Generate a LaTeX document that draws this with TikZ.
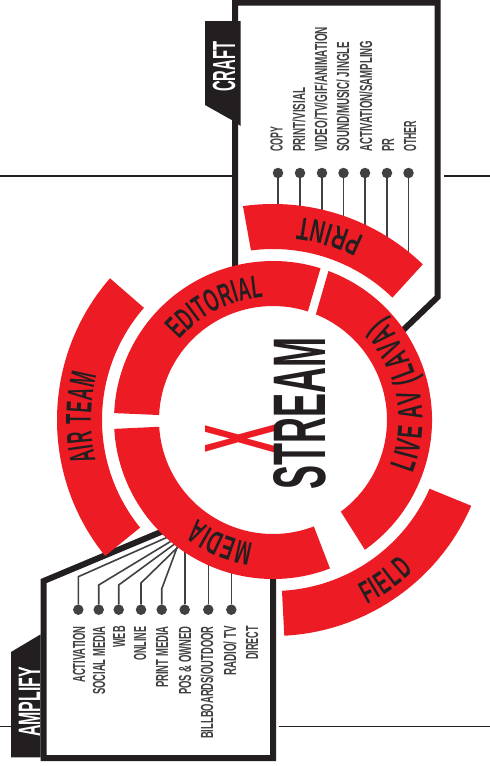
\documentclass[tikz,border=0pt]{standalone}
\usepackage{fontspec}
\usepackage{graphicx}
\usetikzlibrary{decorations.text}
\setmainfont{Liberation Sans}
\definecolor{ink}{HTML}{231F20}
\definecolor{wire}{HTML}{414042}
\definecolor{hot}{HTML}{ED1C24}
\newfontfamily\ffEd[FakeStretch=0.55]{Liberation Sans}
\newfontfamily\ffMe[FakeStretch=0.56]{Liberation Sans}
\newfontfamily\ffLi[FakeStretch=0.54]{Liberation Sans}
\newfontfamily\ffPr[FakeStretch=0.62]{Liberation Sans}
\newfontfamily\ffFi[FakeStretch=0.55]{Liberation Sans}
\newfontfamily\ffAi[FakeStretch=0.46]{Liberation Sans}
\newcommand{\fontEd}{\fontsize{32}{32}\selectfont\ffEd\bfseries}
\newcommand{\fontMe}{\fontsize{33}{33}\selectfont\ffMe\bfseries}
\newcommand{\fontLi}{\fontsize{35}{35}\selectfont\ffLi\bfseries}
\newcommand{\fontPr}{\fontsize{32}{32}\selectfont\ffPr\bfseries}
\newcommand{\fontFi}{\fontsize{32}{32}\selectfont\ffFi\bfseries}
\newcommand{\fontAi}{\fontsize{36}{36}\selectfont\ffAi\bfseries}
% label whose length along the text direction is forced: length, size, text
\newcommand{\fitlen}[3]{\resizebox{#1pt}{\height}{\fontsize{#2}{#2}\selectfont\bfseries #3}}
\newcommand{\segm}[6]{\fill[hot] (#1:#5) arc[start angle=#1,end angle=#2,radius=#5 pt] -- (#3:#6) arc[start angle=#3,end angle=#4,radius=#6 pt] -- cycle;}
\newcommand{\curve}[5]{\path[decorate,decoration={text along path,text color=ink,text align={fit to path},text={|#5|#4}}] (#1:#3) arc[start angle=#1,end angle=#2,radius=#3 pt];}
\tikzset{
  frameline/.style={draw=ink,line width=6pt,miter limit=10},
  rule/.style={draw=ink,line width=1.3pt},
  conn/.style={draw=wire,line width=1.6pt},
  dotnode/.style={circle,fill=wire,inner sep=0pt,minimum size=10.5pt},
  vlabel/.style={rotate=90,anchor=base west,inner sep=0pt,text=wire},
  tagtext/.style={rotate=90,anchor=base west,inner sep=0pt,text=white},
}
\begin{document}
\begin{tikzpicture}[x=1pt,y=1pt]
\useasboundingbox (0,-766) rectangle (490,0);
\fill[white] (0,-766) rectangle (490,0);
% horizontal rules
\coordinate (r1a) at (0,-176); \coordinate (r1b) at (232,-176);
\coordinate (r2a) at (444,-176); \coordinate (r2b) at (490,-176);
\coordinate (r3a) at (0,-726.7); \coordinate (r3b) at (12,-726.7);
\coordinate (r4a) at (279,-726.7); \coordinate (r4b) at (490,-726.7);
\draw[rule] (r1a) -- (r1b); \draw[rule] (r2a) -- (r2b);
\draw[rule] (r3a) -- (r3b); \draw[rule] (r4a) -- (r4b);
% frames
\draw[frameline] (235,-285) -- (235,-2.7) -- (437.7,-2.7) -- (437.7,-297) -- (398,-335);
\draw[frameline] (273,-570) -- (273,-758) -- (43.7,-758) -- (43.7,-581) -- (168,-529);
% tags
\fill[ink] (205,-21) -- (240.7,-21) -- (240.7,-126) -- (231.7,-120) -- (205,-105) -- cycle;
\fill[ink] (11,-652) -- (40.7,-634.3) -- (40.7,-757.3) -- (11,-757.3) -- cycle;
\node[tagtext] (craft) at (235,-92) {\fitlen{50}{32}{CRAFT}};
\node[tagtext] (amplify) at (40,-737) {\fitlen{70}{31}{AMPLIFY}};
% craft list
\foreach \n/\x/\e in {1/278/-230,2/300/-232,3/322/-236,4/343.5/-244,5/365/-254,6/387/-268,7/408.5/-262}{
  \node[dotnode] (c\n) at (\x,-173) {};
  \coordinate (ce\n) at (\x,\e);
  \draw[conn] (c\n) -- (ce\n);
}
\foreach \x/\t/\l/\s in {282.7/COPY/25/CO,305/PRINT\slash VISIAL/64/PV,327/VIDEO\slash TV\slash GIF\slash ANIMATION/125/VT,349/SOUND\slash MUSIC\slash{} JINGLE/110/SM,372/ACTIVATION\slash SAMPLING/111/AS,394/PR/13/PR,416/OTHER/31/OT}{
  \node[vlabel] (cl\s) at (\x,-152) {\fitlen{\l}{17.5}{\t}};
}
% amplify list
\foreach \n/\x in {1/78.3,2/98.7,3/118.7,4/141,5/161.7,6/184.7,7/208.3,8/231.3}{
  \node[dotnode] (a\n) at (\x,-609.7) {};
}
\coordinate (b1) at (78.3,-576.7); \coordinate (e1) at (169,-536.5);
\coordinate (b2) at (98.7,-585);   \coordinate (e2) at (173,-540);
\coordinate (b3) at (118.7,-585);  \coordinate (e3) at (176,-543);
\coordinate (b4) at (141,-583);    \coordinate (e4) at (179,-546);
\coordinate (b5) at (161.7,-589);  \coordinate (e5) at (178,-545);
\coordinate (e6) at (184.7,-548);  \coordinate (e7) at (208.3,-560); \coordinate (e8) at (231.3,-565);
\draw[conn] (a1) -- (b1) -- (e1);
\draw[conn] (a2) -- (b2) -- (e2);
\draw[conn] (a3) -- (b3) -- (e3);
\draw[conn] (a4) -- (b4) -- (e4);
\draw[conn] (a5) -- (b5) -- (e5);
\draw[conn] (a6) -- (e6);
\draw[conn] (a7) -- (e7);
\draw[conn] (a8) -- (e8);
\foreach \x/\b/\t/\l/\s in {85/683/ACTIVATION/56.5/AC,105/695/SOCIAL MEDIA/68.5/SO,125/648/WEB/21.5/WE,146/660.7/ONLINE/34/ON,168/688/PRINT MEDIA/61.5/PR,191/695/POS \& OWNED/68.5/PO,213/739/BILLBOARDS\slash OUTDOOR/112.5/BI,236/676/RADIO\slash{} TV/49.5/RA,258/660/DIRECT/33.5/DI}{
  \node[vlabel] (al\s) at (\x,-\b) {\fitlen{\l}{17.5}{\t}};
}
% rings
\begin{scope}[shift={(273,-420)}]
\segm{177.5}{72.6}{72.2}{177.5}{159}{114}
\segm{69.6}{-54.7}{-53.5}{67.9}{159}{114}
\segm{183.2}{291}{291}{183.4}{159}{114}
\segm{98}{46.1}{45.7}{97.4}{216}{171}
\segm{-23.4}{-87}{-87}{-23.7}{216}{171}
\segm{139}{219}{219}{139}{216}{171}
\curve{139.4}{94.5}{123}{EDITORIAL}{\fontEd}
\curve{261}{232.5}{124.5}{MEDIA}{\fontMe}
\curve{-21}{43}{149.5}{LIVE AV (LAVA)}{\fontLi}
\curve{63.5}{82.5}{204.5}{PRINT}{\fontPr}
\curve{-63}{-47}{207}{FIELD}{\fontFi}
\curve{193}{165.7}{182}{AIR TEAM}{\fontAi}
\end{scope}
% title
\node[rotate=90,anchor=base west,inner sep=0pt,text=hot] (xmark) at (275,-454) {\resizebox{29pt}{70pt}{\bfseries X}};
\node[rotate=90,anchor=base west,inner sep=0pt,text=ink] (stream) at (325,-490) {\resizebox{152pt}{52pt}{\bfseries STREAM}};
\end{tikzpicture}
\end{document}
